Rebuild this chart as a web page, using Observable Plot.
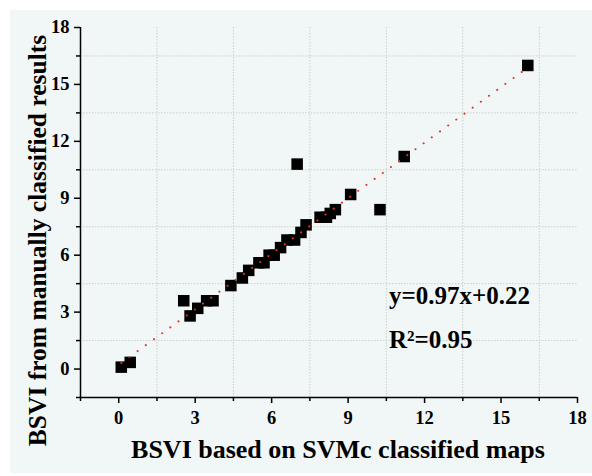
<!DOCTYPE html>
<html>
<head>
<meta charset="utf-8">
<script src="https://cdn.jsdelivr.net/npm/d3@7"></script>
<script src="https://cdn.jsdelivr.net/npm/@observablehq/plot@0.6"></script>
<style>
  html, body { margin: 0; padding: 0; background: #ffffff; }
  #wrap { position: relative; width: 592px; height: 476px; overflow: hidden; }
  #bg { position: absolute; left: 10px; top: 10px; width: 582px; height: 463px; background: #f1f6f6; }
  #chart { position: absolute; left: 0; top: 0; }
</style>
</head>
<body>
<div id="wrap"><div id="bg"></div><div id="chart"></div></div>
<script>
// Data
const svmX =    [0.1, 0.45, 2.55, 2.8, 3.1, 3.45, 3.7, 4.4, 4.85, 5.1, 5.5, 5.7, 5.9, 6.1, 6.35, 6.6, 6.9, 7.15, 7.35, 7.0, 7.9, 8.15, 8.3, 8.5, 9.1, 10.25, 11.2, 16.05];
const manualY = [0.1, 0.35, 3.6, 2.8, 3.2, 3.6, 3.6, 4.4, 4.8, 5.2, 5.6, 5.6, 6.0, 6.0, 6.4, 6.8, 6.8, 7.2, 7.6, 10.8, 8.0, 8.0, 8.2, 8.4, 9.2, 8.4, 11.2, 16.0];
const fitX = [0.1, 15.9];
const fitY = [0.32, 15.74];
const majorTicks = [0, 3, 6, 9, 12, 15, 18];
const minorTicks = [-1.5, 1.5, 4.5, 7.5, 10.5, 13.5, 16.5];
const gridTicks = [1.5, 4.5, 7.5, 10.5, 13.5, 16.5];
const xTitle = "BSVI based on SVMc classified maps";
const yTitle = "BSVI from manually classified results";
const annText = ["y=0.97x+0.22", "R\u00B2=0.95"];
const annX = [10.6, 10.6];
const annY = [3.45, 1.1];

const points = svmX.map((x, i) => ({x, y: manualY[i]}));
const fit = fitX.map((x, i) => ({x, y: fitY[i]}));
const ann = annText.map((t, i) => ({t, x: annX[i], y: annY[i]}));

const chart = Plot.plot({
  width: 592,
  height: 476,
  marginLeft: 80,
  marginRight: 15,
  marginTop: 27,
  marginBottom: 79,
  x: {domain: [-1.5, 18]},
  y: {domain: [-1.5, 18]},
  style: {background: "transparent", fontFamily: "'Liberation Serif', 'Times New Roman', serif", fontWeight: "bold", color: "#000", overflow: "visible"},
  marks: [
    Plot.gridX(gridTicks, {stroke: "#c9cfcf", strokeOpacity: 1, strokeDasharray: "1.5,1.5"}),
    Plot.gridY(gridTicks, {stroke: "#c9cfcf", strokeOpacity: 1, strokeDasharray: "1.5,1.5"}),
    Plot.axisX(minorTicks, {tickSize: 4, tickFormat: () => "", label: null, strokeWidth: 1.5, stroke: "#000"}),
    Plot.axisY(minorTicks, {tickSize: 4, tickFormat: () => "", label: null, strokeWidth: 1.5, stroke: "#000"}),
    Plot.axisX(majorTicks, {tickSize: 6, tickPadding: 7, label: null, fontSize: 18.5, fontWeight: "bold", strokeWidth: 1.5, stroke: "#000", fill: "#000"}),
    Plot.axisY(majorTicks, {tickSize: 6, tickPadding: 5, label: null, fontSize: 18.5, fontWeight: "bold", strokeWidth: 1.5, stroke: "#000", fill: "#000"}),
    Plot.ruleX([-1.5], {stroke: "#000", strokeWidth: 1.5}),
    Plot.ruleY([-1.5], {stroke: "#000", strokeWidth: 1.5}),
    Plot.dot(points, {x: "x", y: "y", symbol: "square", r: 6.5, fill: "#000", stroke: "none"}),
    Plot.line(fit, {x: "x", y: "y", stroke: "#e8312f", strokeWidth: 2, strokeDasharray: "0.1,10", strokeLinecap: "round"}),
    Plot.text(ann, {x: "x", y: "y", text: "t", textAnchor: "start", lineAnchor: "bottom", fontSize: 25, fontWeight: "bold", fill: "#000"}),
    Plot.text([xTitle], {frameAnchor: "bottom", textAnchor: "middle", dx: 9, dy: 60, lineAnchor: "bottom", fontSize: 26, fontWeight: "bold", fill: "#000"}),
    Plot.text([yTitle], {frameAnchor: "left", textAnchor: "middle", dx: -43, dy: 28, rotate: -90, lineAnchor: "middle", fontSize: 25.5, fontWeight: "bold", fill: "#000"})
  ]
});
document.getElementById("chart").appendChild(chart);
</script>
</body>
</html>
